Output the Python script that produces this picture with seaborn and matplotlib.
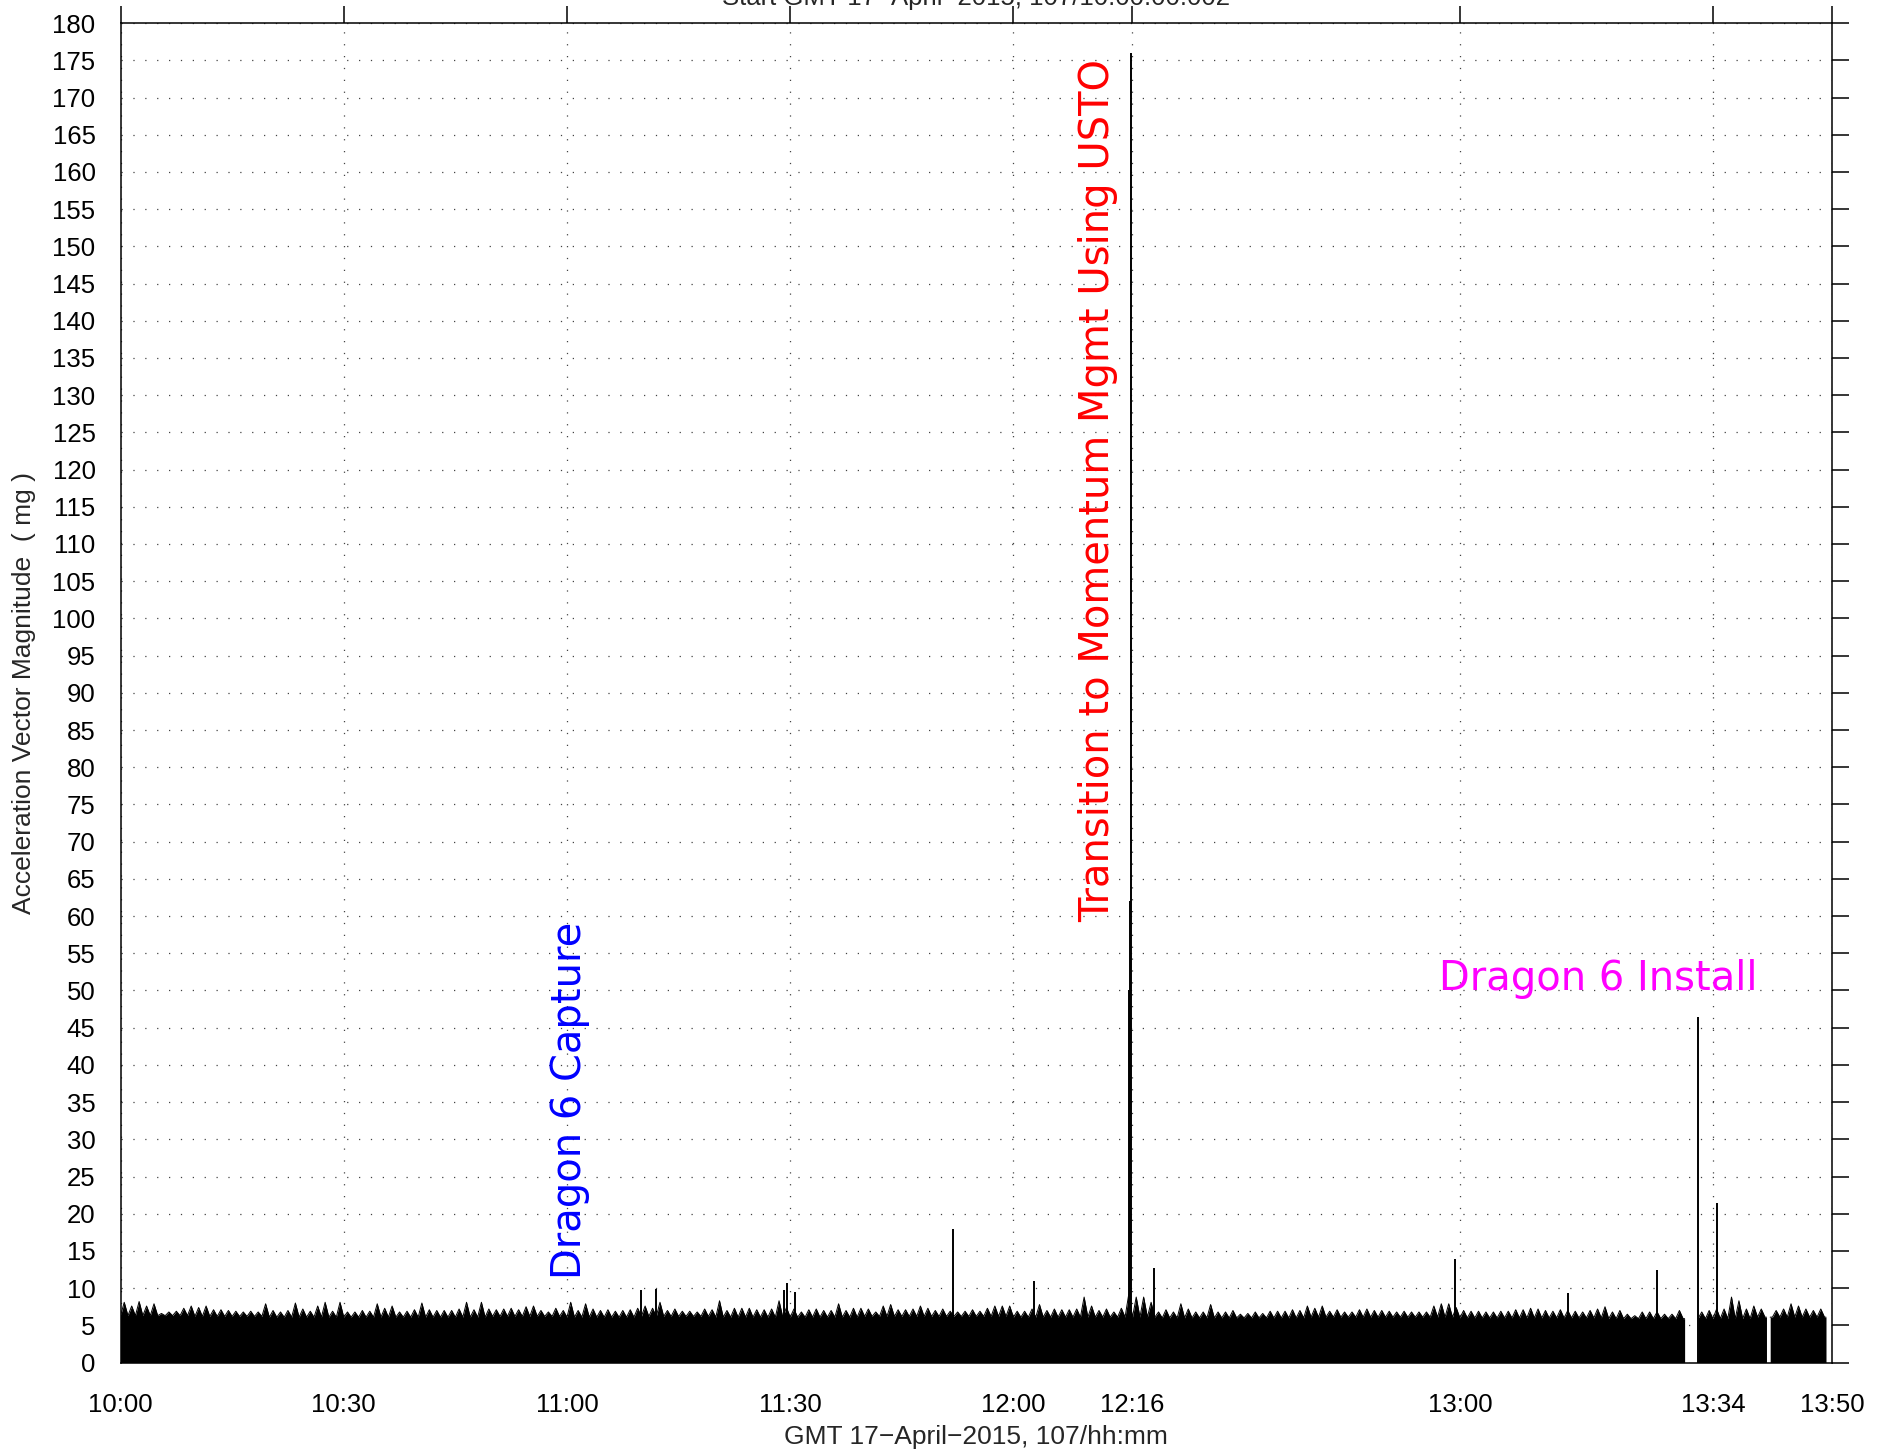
import numpy as np
import matplotlib
matplotlib.use("Agg")
import matplotlib.pyplot as plt
import seaborn as sns
from matplotlib import font_manager

# ---------------- data (minutes after 10:00 GMT) ----------------
tick_minutes = [0, 30, 60, 90, 120, 136, 180, 214, 230]
tick_labels = ["10:00", "10:30", "11:00", "11:30", "12:00", "12:16", "13:00", "13:34", "13:50"]
ytick_values = list(range(0, 181, 5))

# per-minute envelope peak (mg), minutes 0..229
peak_per_minute = [
    8.1, 7.6, 8.2, 7.6, 7.9, 6.6, 6.8, 6.9, 7.3, 7.6,
    7.4, 7.6, 7.1, 7.1, 7.0, 6.9, 6.8, 6.9, 6.8, 7.9,
    7.0, 6.8, 7.0, 8.0, 7.2, 6.9, 7.6, 8.1, 6.9, 8.1,
    6.8, 6.8, 7.0, 6.9, 7.9, 7.3, 7.6, 6.8, 6.9, 7.1,
    8.0, 7.1, 7.0, 7.0, 7.0, 7.2, 8.1, 7.1, 8.1, 7.2,
    7.1, 7.2, 7.3, 7.1, 7.5, 7.6, 7.0, 6.8, 7.3, 7.0,
    8.1, 7.0, 7.9, 7.2, 7.0, 7.1, 6.9, 7.0, 7.1, 7.3,
    7.6, 7.3, 8.1, 7.0, 7.2, 6.9, 6.9, 6.8, 7.2, 7.1,
    8.3, 7.0, 7.3, 7.3, 7.3, 7.1, 7.1, 7.2, 8.3, 7.4,
    7.2, 6.8, 7.1, 7.2, 7.0, 7.0, 7.9, 7.0, 7.3, 7.3,
    7.2, 6.8, 7.6, 7.8, 7.1, 7.1, 7.2, 7.6, 7.3, 7.0,
    7.2, 6.9, 6.8, 6.9, 7.1, 6.9, 7.3, 7.6, 7.6, 7.6,
    6.9, 6.9, 7.2, 7.8, 7.0, 7.2, 7.1, 7.1, 7.2, 8.8,
    7.6, 7.0, 7.2, 6.8, 7.3, 9.2, 8.8, 8.8, 8.1, 6.8,
    7.1, 6.8, 7.9, 7.2, 6.8, 6.8, 7.8, 6.8, 6.8, 7.0,
    6.5, 6.6, 6.8, 6.6, 6.9, 6.9, 6.9, 7.1, 7.0, 7.6,
    7.3, 7.6, 6.9, 7.1, 6.8, 6.8, 7.1, 7.2, 7.0, 7.0,
    6.9, 6.8, 6.9, 6.8, 6.8, 6.8, 7.6, 7.9, 7.9, 7.4,
    7.0, 6.9, 6.9, 6.8, 6.8, 6.9, 6.9, 7.1, 7.1, 7.3,
    7.2, 7.0, 6.9, 7.1, 7.0, 6.9, 6.8, 7.0, 7.2, 7.5,
    6.8, 7.0, 6.5, 6.3, 6.8, 6.8, 6.8, 6.5, 6.5, 7.0,
    np.nan, np.nan, 6.8, 7.0, 7.2, 7.2, 8.8, 8.3, 7.2, 7.6,
    7.2, 7.0, 7.0, 7.2, 7.9, 7.6, 7.2, 7.0, 7.2, 7.9,
]
# floor of the noise band per 10-minute block (mg)
floor_per_10min = [6.3, 6.2, 6.1, 6.1, 6.1, 6.2, 6.1, 6.2, 6.1, 6.1, 6.2, 6.2,
                   6.1, 6.1, 6.0, 6.0, 6.1, 6.1, 6.0, 6.0, 5.9, 5.9, 6.1]
data_gaps = [(210.2, 212.0), (221.2, 221.7)]
data_start, data_end = 0.0, 229.2

# isolated spikes (minute, mg)
spike_t = [69.9, 71.9, 89.1, 89.6, 90.7, 111.9, 122.8, 135.55, 135.65, 135.75,
           138.9, 179.3, 194.5, 206.5, 212.0, 214.6]
spike_v = [9.7, 9.9, 9.8, 10.7, 9.5, 18.0, 11.0, 50.0, 62.0, 176.0,
           12.7, 13.9, 9.3, 12.5, 46.5, 21.5]

notes = ["Dragon 6 Capture", "Transition to Momentum Mgmt Using USTO", "Dragon 6 Install"]
note_x = [60.4, 131.4, 177.2]
note_y = [11.2, 59.2, 50.0]

title = "Start GMT 17\u2212April\u22122015, 107/10:00:00.002"
xlabel = "GMT 17\u2212April\u22122015, 107/hh:mm"
ylabel = "Acceleration Vector Magnitude  ( mg )"

# ---------------- style ----------------
sns.set_theme(style="white")
names = {f.name for f in font_manager.fontManager.ttflist}
label_font = "Liberation Sans" if "Liberation Sans" in names else "DejaVu Sans"
plt.rcParams["font.family"] = [label_font, "DejaVu Sans"]
plt.rcParams["axes.edgecolor"] = "black"
plt.rcParams["axes.linewidth"] = 1.1

fig = plt.figure(figsize=(18.89, 14.52), dpi=100)
ax = fig.add_axes([0.0638, 0.0616, 0.9060, 0.9225])

# ---------------- envelope ----------------
peaks = np.array(peak_per_minute, dtype=float)
mins = np.arange(len(peaks), dtype=float)
floors = np.repeat(np.array(floor_per_10min, dtype=float), 10)[:len(peaks)]
t_all = np.ravel(np.column_stack([mins, mins + 0.5]))
y_all = np.ravel(np.column_stack([floors, peaks]))

bounds = [data_start] + [g for gap in data_gaps for g in gap] + [data_end]
segments = list(zip(bounds[0::2], bounds[1::2]))
for a, b in segments:
    sel = (t_all > a) & (t_all < b) & ~np.isnan(y_all)
    fa = floors[min(int(a), len(floors) - 1)]
    fb = floors[min(int(b), len(floors) - 1)]
    ts = np.concatenate([[a], t_all[sel], [b]])
    ys = np.concatenate([[fa], y_all[sel], [fb]])
    ax.fill_between(ts, 0, ys, color="black", lw=0, zorder=2)
    sns.lineplot(x=ts, y=ys, ax=ax, color="black", lw=0.7, estimator=None,
                 sort=False, legend=False, zorder=3)

ax.vlines(spike_t, 0, spike_v, colors="black", lw=1.4, zorder=3)

# ---------------- axes ----------------
ax.set_xlim(0, 230)
ax.set_ylim(0, 180)
ax.set_xticks(tick_minutes)
ax.set_xticklabels(tick_labels)
ax.set_yticks(ytick_values)
ax.set_yticklabels([str(v) for v in ytick_values])
ax.set_axisbelow(True)
ax.grid(True, color="#444444", lw=0.9, linestyle=(0, (1, 8.5)))
ax.tick_params(axis="both", which="major", direction="out", length=12, width=1.1,
               colors="black", top=True, right=True, labelsize=18.5)
ax.tick_params(axis="x", pad=10)
ax.tick_params(axis="y", pad=6)
for s in ax.spines.values():
    s.set_visible(True)
    s.set_color("black")
    s.set_linewidth(1.1)

ax.set_xlabel(xlabel, fontsize=19, va="center")
ax.xaxis.set_label_coords(0.5, -0.0555)
ax.set_ylabel(ylabel, fontsize=19, va="center")
ax.yaxis.set_label_coords(-0.0564, 0.5)

fig.text(0.5168, 0.9969, title, ha="center", va="baseline", fontsize=18.5)

# ---------------- annotations ----------------
ax.text(note_x[0], note_y[0], notes[0], rotation=90, color="blue", fontsize=28.8,
        family="DejaVu Sans", ha="center", va="bottom", zorder=4)
ax.text(note_x[1], note_y[1], notes[1], rotation=90, color="red", fontsize=28.8,
        family="DejaVu Sans", ha="center", va="bottom", zorder=4)
ax.text(note_x[2], note_y[2], notes[2], color="magenta", fontsize=28.8,
        family="DejaVu Sans", ha="left", va="baseline", zorder=4)

fig.savefig("out.png", dpi=100)
